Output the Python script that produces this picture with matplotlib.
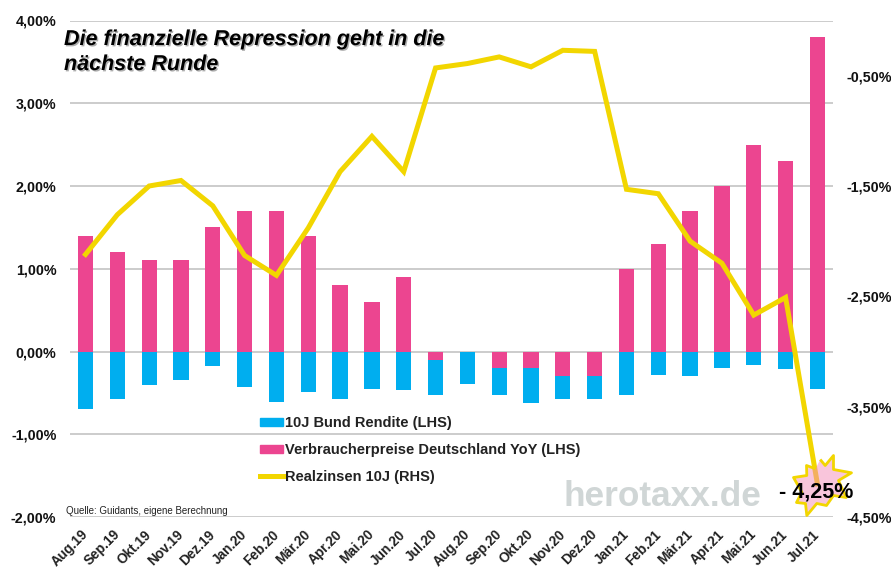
import matplotlib
matplotlib.use('Agg')
import matplotlib.pyplot as plt
import matplotlib.patheffects as pe
from matplotlib.lines import Line2D
from matplotlib.patches import Patch
from numpy import array as np_array

months=['Aug.19','Sep.19','Okt.19','Nov.19','Dez.19','Jan.20','Feb.20','Mär.20','Apr.20','Mai.20','Jun.20','Jul.20',
        'Aug.20','Sep.20','Okt.20','Nov.20','Dez.20','Jan.21','Feb.21','Mär.21','Apr.21','Mai.21','Jun.21','Jul.21']

bund=[-0.70,-0.58,-0.40,-0.35,-0.18,-0.43,-0.61,-0.49,-0.58,-0.45,-0.47,-0.43,
      -0.39,-0.32,-0.42,-0.27,-0.27,-0.52,-0.28,-0.30,-0.20,-0.16,-0.21,-0.45]
cpi=[1.4,1.2,1.1,1.1,1.5,1.7,1.7,1.4,0.8,0.6,0.9,-0.1,
     0.0,-0.2,-0.2,-0.3,-0.3,1.0,1.3,1.7,2.0,2.5,2.3,3.8]
real=[-2.12,-1.76,-1.50,-1.45,-1.68,-2.13,-2.31,-1.88,-1.37,-1.05,-1.37,-0.43,
      -0.39,-0.33,-0.42,-0.27,-0.28,-1.53,-1.57,-2.00,-2.20,-2.67,-2.51,-4.20]

left_ticks=[-2,-1,0,1,2,3,4]
left_labels=['-2,00%','-1,00%','0,00%','1,00%','2,00%','3,00%','4,00%']
right_ticks=[-4.5,-3.5,-2.5,-1.5,-0.5]
right_labels=['-4,50%','-3,50%','-2,50%','-1,50%','-0,50%']

blue='#00AEEF'
pink='#EC4590'
yellow='#F2D600'
plt.rcParams['font.family']=['Liberation Sans','DejaVu Sans']

fig=plt.figure(figsize=(8.91,5.72),dpi=100)
W,H=891.,572.
sub=fig.add_axes([69.6/W,1-517/H,763.4/W,496.5/H])
x=list(range(len(months)))

# the blue bar starts below the pink one when cpi is negative
base=[min(c,0) for c in cpi]
sub.bar(x,cpi,width=0.48,color=pink,zorder=2)
sub.bar(x,bund,width=0.48,bottom=base,color=blue,zorder=2)

sub.set_xlim(-0.5,23.49)
sub.set_ylim(-2,4)
sub.set_yticks(left_ticks)
sub.set_yticklabels(left_labels,fontsize=10.3,fontweight='bold',color='#111111')
sub.set_xticks(x)
sub.set_xticklabels(months,rotation=45,ha='right',va='center',rotation_mode='anchor',fontsize=9.8,fontweight='bold',color='#222222')
sub.tick_params(axis='both',length=0)
sub.tick_params(axis='y',pad=9.5)
sub.tick_params(axis='x',pad=11)
sub.grid(axis='y',color='#c4c4c4',linewidth=1.2,zorder=0)
sub.set_axisbelow(True)
for s in sub.spines.values():
    s.set_visible(False)

sub2=sub.twinx()
sub2.set_ylim(-4.5,0)
sub2.plot(x,real,color=yellow,linewidth=3.6,solid_joinstyle='miter',zorder=3)
sub2.set_yticks(right_ticks)
sub2.set_yticklabels(right_labels,fontsize=10.3,fontweight='bold',color='#111111')
sub2.tick_params(axis='y',length=0,pad=10)
for s in sub2.spines.values():
    s.set_visible(False)

# burst marker around the last point
burst=np_array([(-3.3,26),(1.7,20),(10,30),(10,16),(28,12.7),(15,5),(22.7,-12),(10,-10),(3,-20),(-6.7,-18),(-16.7,-30),
                (-18,-18),(-27,-17),(-21.7,-6.7),(-30,8),(-16.7,10),(-17,20),(-8,16.7)],dtype=float)+np_array([6,-1])
sub2.scatter([23],[-4.20],marker=burst,s=2397,facecolor=(0.96,0.55,0.72,0.5),edgecolor=yellow,linewidth=2,zorder=4,clip_on=False)

fig.text(816/W,1-492/H,'- 4,25%',fontsize=15.5,fontweight='bold',ha='center',va='center',color='black',zorder=6)
fig.text(64/W,1-52/H,'Die finanzielle Repression geht in die\nnächste Runde',fontsize=15.5,fontweight='bold',style='italic',
         ha='left',va='center',linespacing=1.25,color='black',zorder=6,
         path_effects=[pe.withSimplePatchShadow(offset=(1,-1),shadow_rgbFace='#777777',alpha=0.6)])
fig.text(66/W,1-511/H,'Quelle: Guidants, eigene Berechnung',fontsize=7.0,ha='left',va='center',color='#222222',zorder=6)
fig.text(564/W,1-497/H,'herotaxx.de',fontsize=25.4,fontweight='bold',ha='left',va='center',color='#d0d6d6',zorder=1)

handles=[Patch(color=blue),Patch(color=pink),Line2D([0],[0],color=yellow,linewidth=3.6)]
names=['10J Bund Rendite (LHS)','Verbraucherpreise Deutschland YoY (LHS)','Realzinsen 10J (RHS)']
leg=fig.legend(handles,names,loc='upper left',bbox_to_anchor=(259.5/W,1-416/H),frameon=False,
               prop={'size':10.5,'weight':'bold'},handlelength=1.61,handleheight=0.45,handletextpad=0.14,labelspacing=0.89,borderpad=0,borderaxespad=0)
for t in leg.get_texts():
    t.set_color('#222222')

fig.savefig('out.png',dpi=100,facecolor='white')
